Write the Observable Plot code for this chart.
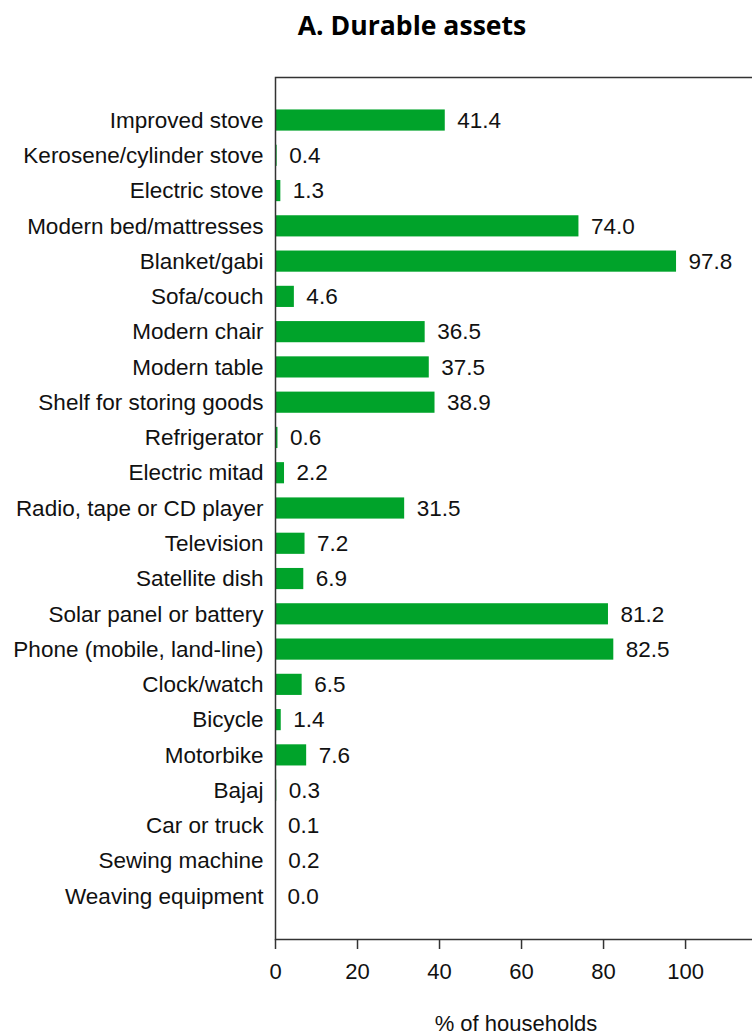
<!DOCTYPE html>
<html>
<head>
<meta charset="utf-8">
<script src="https://cdn.jsdelivr.net/npm/d3@7"></script>
<script src="https://cdn.jsdelivr.net/npm/@observablehq/plot@0.6"></script>
<style>
  html, body { margin: 0; padding: 0; background: #fff; }
  #wrap { width: 752px; }
  #title { height: 50px; position: relative; }
  #title span { position: absolute; left: 0; top: 10px; width: 752px; padding-left: 72px; box-sizing: border-box; text-align: center; font: bold 26.6px "Open Sans", Lato, sans-serif; line-height: 30px; color: #000; }
</style>
</head>
<body>
<div id="wrap">
  <div id="title"><span>A. Durable assets</span></div>
  <div id="chart"></div>
</div>
<script>
const categories = [
  "Improved stove", "Kerosene/cylinder stove", "Electric stove", "Modern bed/mattresses",
  "Blanket/gabi", "Sofa/couch", "Modern chair", "Modern table", "Shelf for storing goods",
  "Refrigerator", "Electric mitad", "Radio, tape or CD player", "Television", "Satellite dish",
  "Solar panel or battery", "Phone (mobile, land-line)", "Clock/watch", "Bicycle", "Motorbike",
  "Bajaj", "Car or truck", "Sewing machine", "Weaving equipment"
];
const values = [41.4, 0.4, 1.3, 74.0, 97.8, 4.6, 36.5, 37.5, 38.9, 0.6, 2.2, 31.5, 7.2, 6.9, 81.2, 82.5, 6.5, 1.4, 7.6, 0.3, 0.1, 0.2, 0.0];
const xTicks = [0, 20, 40, 60, 80, 100];
const xLabel = "% of households";

const data = categories.map((c, i) => ({item: c, value: values[i]}));

const chart = Plot.plot({
  width: 752,
  height: 984,
  marginTop: 27,
  marginBottom: 95,
  marginLeft: 275,
  marginRight: -4,
  style: {fontFamily: "'Liberation Sans', Arial, sans-serif", fontSize: "22.5px", color: "#111", background: "#fff"},
  x: {domain: [0, 117.3]},
  y: {domain: categories, paddingInner: 0.4, paddingOuter: 0.92, round: false},
  marks: [
    Plot.barX(data, {x: "value", y: "item", fill: "#00a32a"}),
    Plot.text(data, {x: "value", y: "item", text: d => d.value.toFixed(1), textAnchor: "start", dx: 12, fontSize: 22.5, fill: "#111"}),
    Plot.frame({stroke: "#333", strokeWidth: 1.5}),
    Plot.axisY({tickSize: 0, tickPadding: 12, fontSize: 22.5, label: null}),
    Plot.axisX({ticks: xTicks, tickSize: 10, tickPadding: 14, fontSize: 22, stroke: "#333", strokeWidth: 1.5, label: xLabel, labelArrow: false, labelAnchor: "center", labelOffset: 91})
  ]
});
document.getElementById("chart").appendChild(chart);
</script>
</body>
</html>
